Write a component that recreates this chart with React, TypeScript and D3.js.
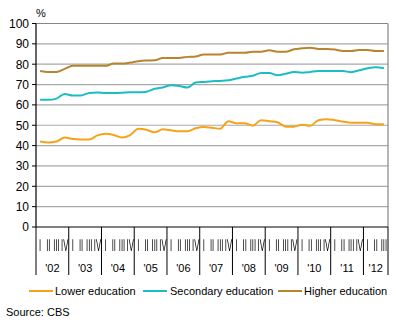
import React from "react";
import * as d3 from "d3";

const years = ["'02", "'03", "'04", "'05", "'06", "'07", "'08", "'09", "'10", "'11", "'12"];
const quarterNames = ["I", "II", "III", "IV"];
const quarterCount = 43; // 2002 Q1 .. 2012 Q3

const lowerEducation = [
  42.0, 41.5, 42.0, 44.0, 43.2, 43.0, 43.0, 45.0, 45.8, 45.2,
  44.0, 45.2, 48.3, 47.8, 46.5, 48.0, 47.5, 47.0, 47.0, 48.5,
  49.2, 48.8, 48.3, 52.0, 51.0, 51.0, 49.8, 52.5, 52.0, 51.5,
  49.3, 49.3, 50.3, 49.8, 52.5, 53.0, 52.5, 51.8, 51.2, 51.2,
  51.2, 50.5, 50.5,
];
const secondaryEducation = [
  62.5, 62.5, 63.1, 65.4, 64.6, 64.6, 65.9, 66.1, 65.9, 65.9,
  66.0, 66.2, 66.2, 66.5, 67.9, 68.6, 69.6, 69.3, 68.5, 71.0,
  71.3, 71.6, 71.8, 72.1, 73.0, 73.8, 74.3, 75.7, 75.7, 74.6,
  75.3, 76.2, 75.8, 76.2, 76.6, 76.6, 76.6, 76.6, 76.1, 77.0,
  78.0, 78.5, 78.0,
];
const higherEducation = [
  76.7, 76.2, 76.2, 77.7, 79.2, 79.2, 79.2, 79.2, 79.2, 80.3,
  80.3, 80.8, 81.5, 81.8, 81.9, 83.1, 83.1, 83.1, 83.6, 83.8,
  84.8, 84.8, 84.8, 85.6, 85.6, 85.6, 86.1, 86.1, 86.8, 86.1,
  86.1, 87.3, 87.8, 88.1, 87.5, 87.5, 87.2, 86.5, 86.5, 87.0,
  87.0, 86.5, 86.5,
];
const yTicks = [0, 10, 20, 30, 40, 50, 60, 70, 80, 90, 100];

const seriesNames = ["Lower education", "Secondary education", "Higher education"];
const seriesColors = ["#f6a31c", "#1cbcc4", "#b8842e"];

export default function App() {
  const font = "'Liberation Sans', Arial, sans-serif";
  const left = 36;
  const right = 388;
  const top = 23.5;
  const bottom = 227;

  const x = d3.scaleLinear().domain([0, quarterCount]).range([left, right]);
  const y = d3.scaleLinear().domain([0, 100]).range([bottom, top]);

  const line = d3
    .line<number>()
    .x((_, i) => x(i + 0.5))
    .y((d) => y(d))
    .curve(d3.curveMonotoneX);

  const allSeries = [lowerEducation, secondaryEducation, higherEducation];

  const yearBounds = d3.range(0, quarterCount, 4).concat([quarterCount]);

  const legendItems = [
    { lx: 29, tx: 55 },
    { lx: 143, tx: 170 },
    { lx: 278, tx: 304 },
  ];

  return (
    <svg
      width={396}
      height={323}
      style={{ position: "absolute", left: 0, top: 0, background: "#fff" }}
      fontFamily={font}
    >
      {/* gridlines */}
      {yTicks.filter((t) => t > 0).map((t) => (
        <line
          key={t}
          x1={left}
          x2={right}
          y1={y(t)}
          y2={y(t)}
          stroke={t === 100 ? "#868686" : "#a8a8a8"}
          strokeWidth={1.2}
        />
      ))}
      {/* right border */}
      <line x1={right} x2={right} y1={top} y2={bottom} stroke="#868686" strokeWidth={1.2} />

      {/* series */}
      {allSeries.map((s, k) => (
        <path key={k} d={line(s) || ""} fill="none" stroke={seriesColors[k]} strokeWidth={2} />
      ))}

      {/* y axis */}
      <line x1={left} x2={left} y1={top} y2={bottom} stroke="#000" strokeWidth={1.2} />
      {yTicks.map((t) => (
        <g key={t}>
          <line x1={left - 4} x2={left} y1={y(t)} y2={y(t)} stroke="#000" strokeWidth={1} />
          <text x={29} y={y(t)} dy="0.36em" textAnchor="end" fontSize={12} fill="#000">
            {t}
          </text>
        </g>
      ))}
      <text x={36} y={17} fontSize={11} fill="#000">
        %
      </text>

      {/* x axis */}
      <line x1={left} x2={right} y1={bottom} y2={bottom} stroke="#000" strokeWidth={1.2} />
      {yearBounds.map((b) => (
        <line key={b} x1={x(b)} x2={x(b)} y1={bottom} y2={275} stroke="#000" strokeWidth={1} />
      ))}
      <g opacity={0.999} style={{ willChange: "transform" }}>
        {d3.range(quarterCount).map((i) => (
          <text
            key={i}
            transform={`translate(${x(i + 0.5)},${251}) scale(0.45,1)`}
            textAnchor="middle"
            fontSize={17}
            fill="#000"
            textRendering="geometricPrecision"
          >
            {quarterNames[i % 4]}
          </text>
        ))}
      </g>
      {years.map((yr, k) => {
        const start = k * 4;
        const end = Math.min(start + 4, quarterCount);
        return (
          <text
            key={yr}
            x={(x(start) + x(end)) / 2}
            y={272}
            textAnchor="middle"
            fontSize={11}
            fill="#000"
          >
            {yr}
          </text>
        );
      })}

      {/* legend */}
      {seriesNames.map((n, k) => (
        <g key={n}>
          <line
            x1={legendItems[k].lx}
            x2={legendItems[k].lx + 24}
            y1={291}
            y2={291}
            stroke={seriesColors[k]}
            strokeWidth={2}
          />
          <text x={legendItems[k].tx} y={291} dy="0.36em" fontSize={11} fill="#000">
            {n}
          </text>
        </g>
      ))}

      <text x={6} y={316} fontSize={11} fill="#000">
        Source: CBS
      </text>
    </svg>
  );
}
